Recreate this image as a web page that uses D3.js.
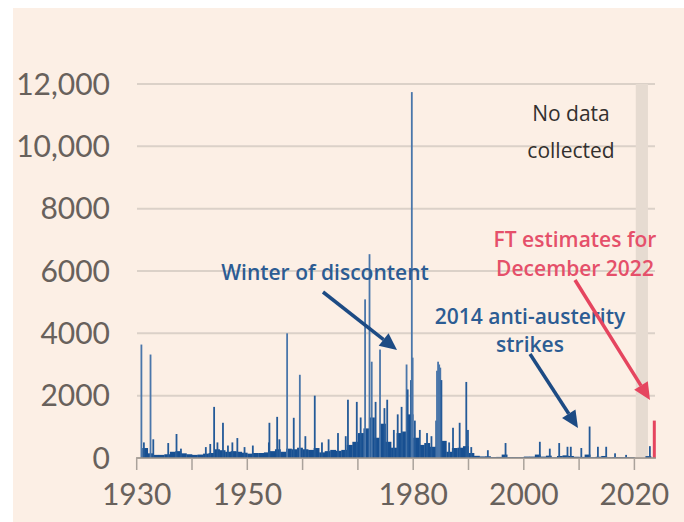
<!DOCTYPE html>
<html>
<head>
<meta charset="utf-8">
<script src="https://cdn.jsdelivr.net/npm/d3@7"></script>
<style>
  body { margin: 0; background: #fff; }
  text { font-family: Lato, "Open Sans", sans-serif; }
  .note { font-family: "Open Sans", Lato, sans-serif; }
</style>
</head>
<body>
<svg width="684" height="522"></svg>
<script>
// working days lost, thousands per month
var baseYears = d3.range(1931, 2023);
var baseValues = [
  320,150,100,100,120,200,220,150,120,100,
  110,140,160,280,250,200,220,200,170,140,
  160,160,180,220,280,200,300,280,330,280,
  260,320,180,220,260,230,260,420,520,800,
  950,1300,650,1100,520,330,800,850,1400,650,
  420,480,360,1200,550,200,320,330,380,160,
  70,50,55,30,35,110,25,25,25,45,
  45,110,45,75,20,65,85,65,40,35,
  110,25,40,65,20,30,25,25,20,null,
  null,60
];

// individual monthly spikes
var spikeDates = [
  1930.85,1931.3,1932.5,1933.0,1935.7,1937.2,1938.0,1942.5,1943.3,1944.0,
  1944.6,1945.6,1946.5,1947.3,1948.2,1949.5,1951.0,1953.9,1954.0,1955.4,
  1955.8,1957.2,1958.4,1959.5,1960.5,1962.2,1963.5,1964.7,1966.4,1967.8,
  1968.2,1969.8,1970.5,1971.3,1972.1,1972.5,1973.2,1974.0,1974.8,1975.3,
  1976.5,1977.2,1977.9,1978.8,1979.0,1979.6,1979.75,1979.9,1980.3,1981.2,
  1982.5,1983.3,1984.3,1984.5,1984.7,1984.9,1985.1,1986.5,1987.2,1988.4,
  1989.6,1989.9,1990.5,1993.5,1996.7,2002.9,2004.7,2006.4,2007.9,2008.5,
  2010.4,2011.9,2013.4,2014.9,2016.5,2018.5,2022.8
];
var spikeValues = [
  3640,500,3320,600,480,770,300,350,450,1640,
  500,1130,400,500,640,350,400,500,1130,1320,
  600,4000,1290,2670,700,2000,500,600,800,700,
  1870,1800,1300,5090,6540,3090,1800,3480,1600,1870,
  900,1400,1640,3000,2200,2500,11740,3220,1200,900,
  800,700,2800,3090,3000,2900,2500,500,970,1130,
  2440,900,350,250,480,520,300,480,360,360,
  320,1010,360,360,150,100,380
];

// FT estimate
var estimateDate = 2023.6;
var estimateValue = 1200;

var yTicks = [0, 2000, 4000, 6000, 8000, 10000, 12000];
var xTicks = d3.range(1930, 2030, 10);
var xLabels = [1930, 1950, 1980, 2000, 2020];
var noDataStart = 2020.25, noDataEnd = 2022.45;

var svg = d3.select("svg");

svg.append("rect")
    .attr("x", 13).attr("y", 8)
    .attr("width", 671).attr("height", 514)
    .attr("fill", "#fcefe5");

var x = d3.scaleLinear().domain([1930, 2020]).range([136.7, 634.4]);
var y = d3.scaleLinear().domain([0, 12000]).range([458, 84]);

// gridlines
svg.append("g")
    .selectAll("line")
    .data(yTicks)
    .enter().append("line")
    .attr("x1", 137).attr("x2", 655)
    .attr("y1", function(d) { return y(d); })
    .attr("y2", function(d) { return y(d); })
    .attr("stroke", "#dbd1c8")
    .attr("stroke-width", 2);

svg.append("g")
    .selectAll("text")
    .data(yTicks)
    .enter().append("text")
    .attr("x", 110)
    .attr("y", function(d) { return y(d); })
    .attr("dy", "0.36em")
    .attr("text-anchor", "end")
    .attr("font-size", 30)
    .attr("fill", "#68615c")
    .text(function(d) { return d >= 10000 ? d3.format(",")(d) : d; });

// no data band
svg.append("rect")
    .attr("x", x(noDataStart))
    .attr("width", x(noDataEnd) - x(noDataStart))
    .attr("y", y(12000))
    .attr("height", y(0) - y(12000))
    .attr("fill", "#e6dbd1");

// base level bars (one per year)
svg.append("g")
    .selectAll("rect")
    .data(baseYears.map(function(yr, i) { return {yr: yr, v: baseValues[i]}; })
      .filter(function(d) { return d.v != null; }))
    .enter().append("rect")
    .attr("x", function(d) { return x(d.yr); })
    .attr("width", function(d) { return x(d.yr + 1) - x(d.yr) + 0.3; })
    .attr("y", function(d) { return y(d.v); })
    .attr("height", function(d) { return y(0) - y(d.v); })
    .attr("fill", "#174f91");

// spikes
svg.append("g")
    .selectAll("rect")
    .data(spikeDates.map(function(dt, i) { return {dt: dt, v: spikeValues[i]}; }))
    .enter().append("rect")
    .attr("x", function(d) { return x(d.dt) - 0.9; })
    .attr("width", 1.8)
    .attr("y", function(d) { return y(d.v); })
    .attr("height", function(d) { return y(0) - y(d.v); })
    .attr("fill", function(d) { return d.v > 2500 ? "#4a76aa" : "#245a98"; });

svg.append("rect")
    .attr("x", x(estimateDate) - 1.5)
    .attr("width", 3)
    .attr("y", y(estimateValue))
    .attr("height", y(0) - y(estimateValue))
    .attr("fill", "#e5455f");

// x axis
svg.append("line")
    .attr("x1", 136).attr("x2", 656)
    .attr("y1", y(0)).attr("y2", y(0))
    .attr("stroke", "#9a928b").attr("stroke-width", 1.5);

svg.append("g")
    .selectAll("line")
    .data(xTicks)
    .enter().append("line")
    .attr("x1", function(d) { return x(d); })
    .attr("x2", function(d) { return x(d); })
    .attr("y1", y(0)).attr("y2", y(0) + 12)
    .attr("stroke", "#aaa29b").attr("stroke-width", 1.5);

svg.append("g")
    .selectAll("text")
    .data(xLabels)
    .enter().append("text")
    .attr("x", function(d) { return x(d); })
    .attr("y", 494)
    .attr("dy", "0.36em")
    .attr("text-anchor", "middle")
    .attr("font-size", 30)
    .attr("fill", "#68615c")
    .text(function(d) { return d; });

// annotations
function arrow(x1, y1, x2, y2, col) {
  var ang = Math.atan2(y2 - y1, x2 - x1);
  var len = 17, half = 8;
  var bx = x2 - len * Math.cos(ang), by = y2 - len * Math.sin(ang);
  svg.append("line")
      .attr("x1", x1).attr("y1", y1).attr("x2", bx).attr("y2", by)
      .attr("stroke", col).attr("stroke-width", 3.5);
  svg.append("path")
      .attr("d", "M" + x2 + "," + y2 +
        "L" + (bx + half * Math.sin(ang)) + "," + (by - half * Math.cos(ang)) +
        "L" + (bx - half * Math.sin(ang)) + "," + (by + half * Math.cos(ang)) + "Z")
      .attr("fill", col);
}

function label(lines, cx, cy, gap, col, weight) {
  lines.forEach(function(t, i) {
    svg.append("text")
        .attr("class", "note")
        .attr("x", cx).attr("y", cy + i * gap)
        .attr("dy", "0.36em")
        .attr("text-anchor", "middle")
        .attr("font-size", 21)
        .attr("font-weight", weight)
        .attr("fill", col)
        .text(t);
  });
}

label(["No data", "collected"], 571, 113, 37, "#33302e", 400);

label(["Winter of discontent"], 325, 272, 0, "#2c5c93", 600);
arrow(323, 292, 397, 350, "#1d4b84");

label(["2014 anti-austerity", "strikes"], 530, 316, 28, "#2c5c93", 600);
arrow(530, 354, 578, 428, "#1d4b84");

label(["FT estimates for", "December 2022"], 575, 239, 29, "#e5506a", 600);
arrow(575, 280, 650, 400, "#e5455f");
</script>
</body>
</html>
